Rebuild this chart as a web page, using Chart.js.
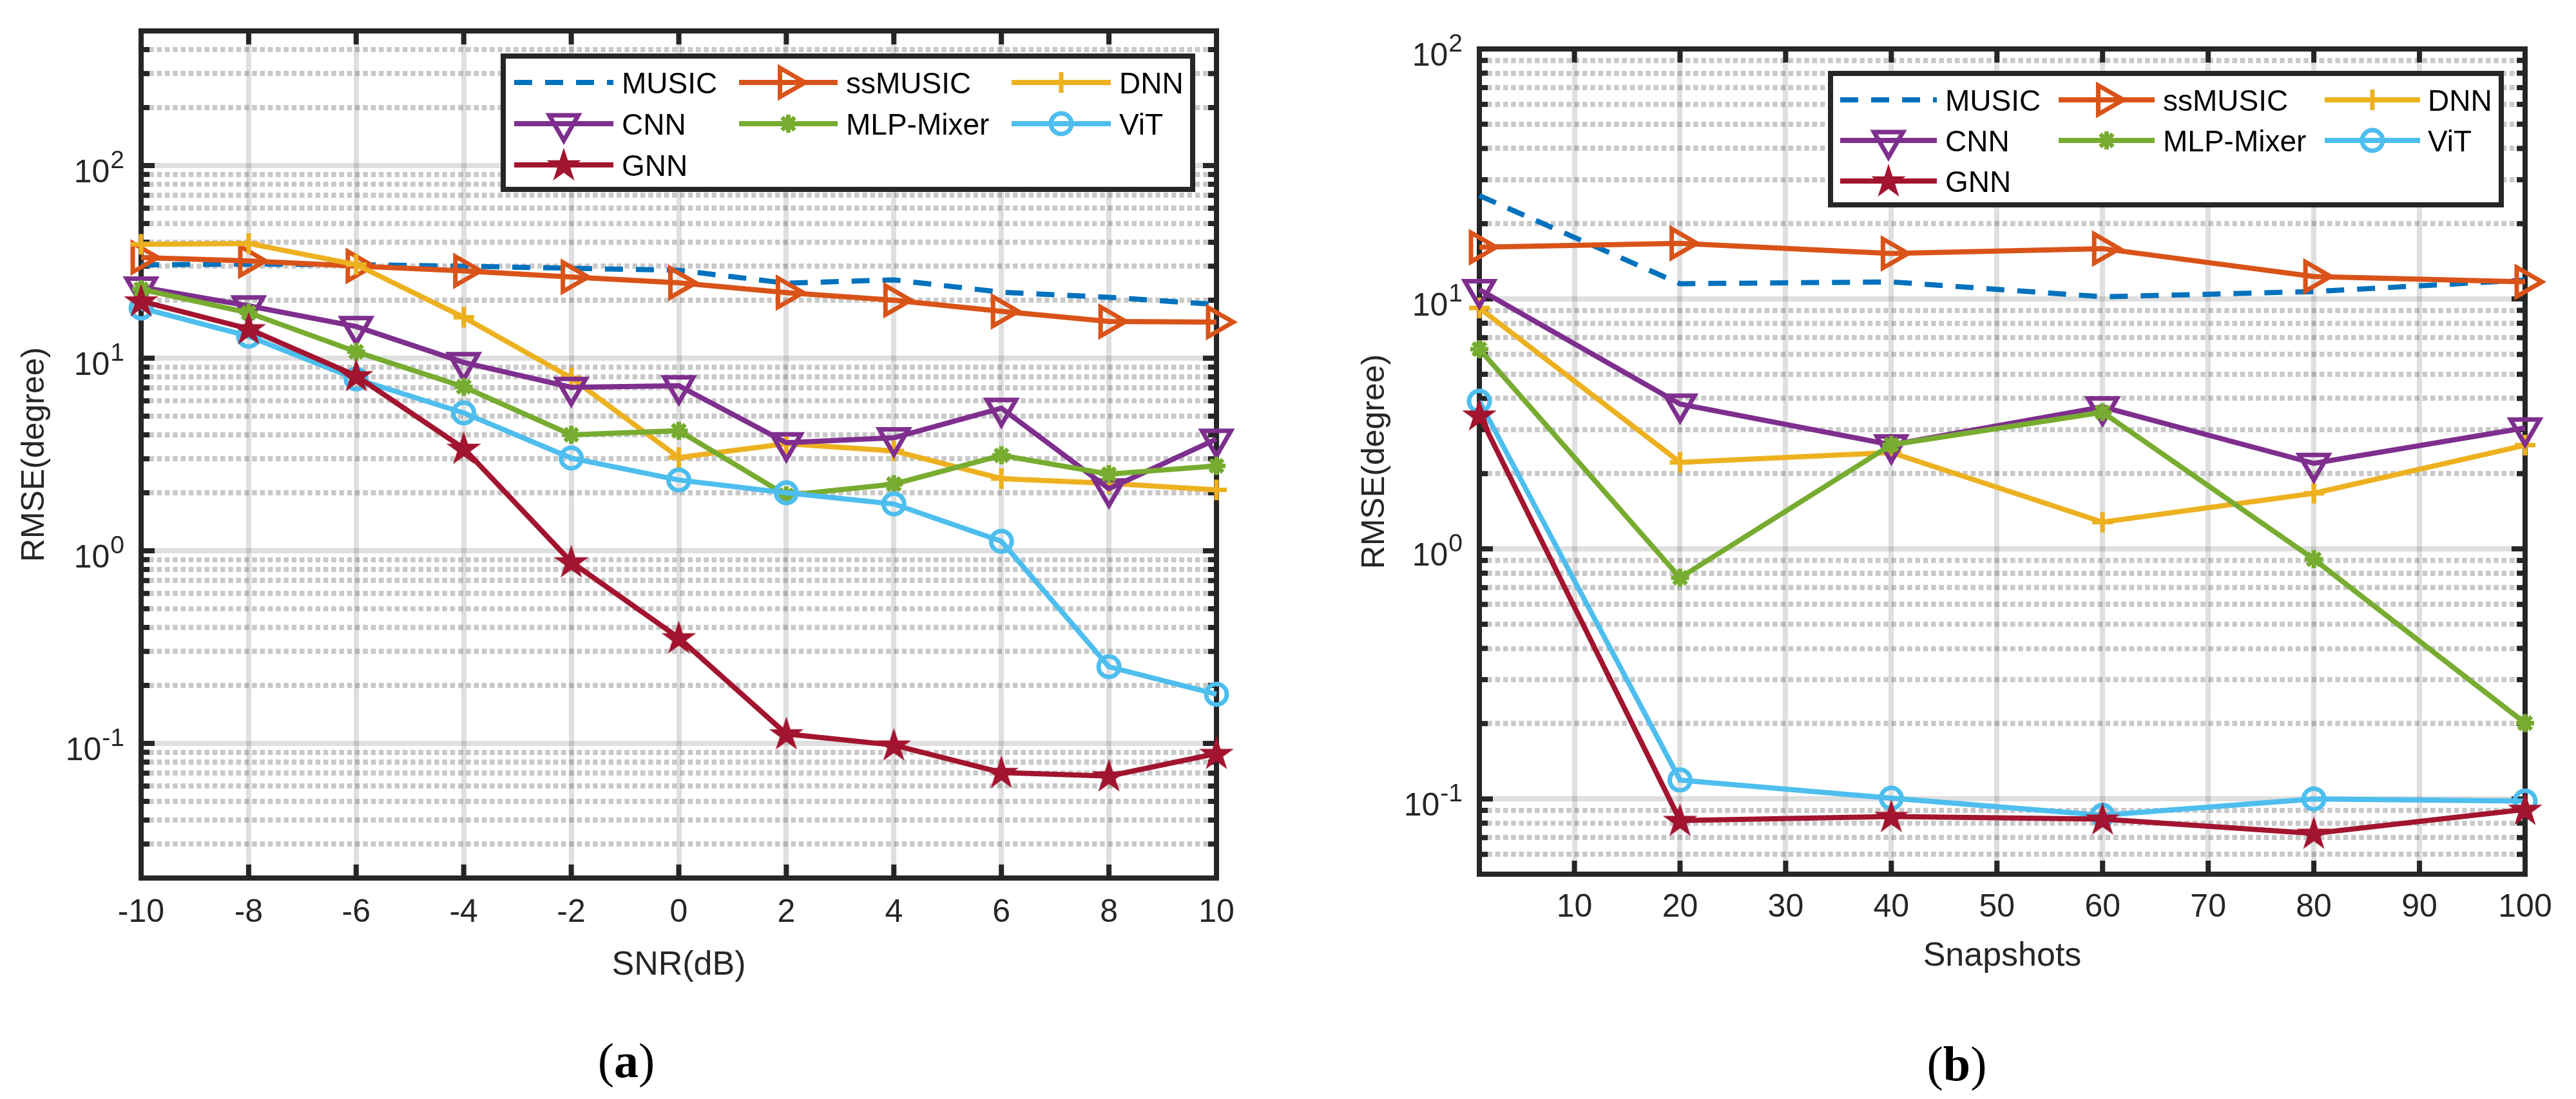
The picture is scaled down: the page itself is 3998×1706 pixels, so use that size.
<!DOCTYPE html>
<html><head><meta charset="utf-8">
<script src="https://cdn.jsdelivr.net/npm/chart.js@4.4.1/dist/chart.umd.min.js"></script>
<style>
html,body{margin:0;padding:0;background:#fff;width:3998px;height:1706px;overflow:hidden;}
canvas{position:absolute;top:0;}
#ca{left:0;} #cb{left:2000px;}
.cap{position:absolute;font-family:'Liberation Serif','Times New Roman',serif;font-size:76px;color:#000;transform:translate(-50%,-50%);white-space:nowrap;line-height:1;}
</style></head><body>
<canvas id="ca" width="2000" height="1706"></canvas>
<canvas id="cb" width="1998" height="1706"></canvas>
<div class="cap" style="left:972px;top:1646px">(<b>a</b>)</div>
<div class="cap" style="left:3037px;top:1651px">(<b>b</b>)</div>
<script>
// ---------------- data ----------------
const seriesNames = ['MUSIC','ssMUSIC','DNN','CNN','MLP-Mixer','ViT','GNN'];

const snrDb     = [-10,-8,-6,-4,-2,0,2,4,6,8,10];
const snrTicks  = [-10,-8,-6,-4,-2,0,2,4,6,8,10];
const musicA    = [30.5,30.8,30.6,30.0,29.3,28.6,24.5,25.5,22.0,20.7,19.0];
const ssmusicA  = [33.3,32.0,30.1,28.4,26.4,24.6,21.9,20.0,17.5,15.5,15.4];
const dnnA      = [39.0,39.4,30.6,16.3,7.9,3.05,3.6,3.3,2.37,2.24,2.07];
const cnnA      = [23.4,18.7,14.6,9.5,7.06,7.2,3.64,3.86,5.5,2.1,3.8];
const mlpA      = [22.8,17.2,10.8,7.1,4.0,4.2,1.94,2.22,3.13,2.5,2.76];
const vitA      = [18.2,13.0,7.8,5.2,3.03,2.33,2.0,1.75,1.12,0.25,0.18];
const gnnA      = [19.8,14.2,8.1,3.4,0.875,0.353,0.112,0.098,0.0706,0.0677,0.0886];

const snapshots  = [1,20,40,60,80,100];
const snapTicks  = [10,20,30,40,50,60,70,80,90,100];
const musicB     = [25.9,11.5,11.7,10.2,10.7,11.9];
const ssmusicB   = [16.1,16.7,15.2,15.9,12.3,11.7];
const dnnB       = [9.2,2.22,2.43,1.28,1.67,2.6];
const cnnB       = [10.9,3.8,2.61,3.7,2.2,3.05];
const mlpB       = [6.3,0.767,2.61,3.52,0.91,0.201];
const vitB       = [3.9,0.119,0.1007,0.086,0.1,0.098];
const gnnB       = [3.43,0.082,0.085,0.083,0.0728,0.0908];

const rmseDecadesA = [0.01,0.1,1,10,100];
const rmseDecadesB = [0.01,0.1,1,10,100];
const rmseRangeA = [0.02,500];
const rmseRangeB = [0.05,100];

// ---------------- styles ----------------
const styles = [
  {color:'#0072BD', dash:[28,20], marker:'none'},
  {color:'#D95319', marker:'triangle', rot:90, r:26},
  {color:'#EDB120', marker:'cross', r:16},
  {color:'#7E2F8E', marker:'triangle', rot:180, r:26},
  {color:'#77AC30', marker:'star', r:14},
  {color:'#4DBEEE', marker:'circle', r:16},
  {color:'#A2142F', marker:'pentagram', r:25}
];
const AX = '#262626';
Chart.defaults.font.family = "'Liberation Sans', Arial, Helvetica, sans-serif";
Chart.defaults.color = AX;

function makePentagram(R, color){
  const s = Math.ceil(2*R+6);
  const c = document.createElement('canvas'); c.width = s; c.height = s;
  const g = c.getContext('2d');
  g.translate(s/2, s/2 + R*0.06);
  g.beginPath();
  for (let k=0;k<10;k++){
    const a = -Math.PI/2 + k*Math.PI/5;
    const rr = (k%2===0) ? R : R*0.382;
    g.lineTo(Math.cos(a)*rr, Math.sin(a)*rr);
  }
  g.closePath(); g.fillStyle = color; g.fill();
  g.lineWidth = 2; g.strokeStyle = color; g.stroke();
  return c;
}
const pentImg = makePentagram(25, '#A2142F');

function drawMarker(ctx, st, x, y){
  if (st.marker==='none') return;
  ctx.save(); ctx.translate(x,y);
  ctx.lineWidth = 7; ctx.strokeStyle = st.color; ctx.fillStyle = st.color;
  ctx.setLineDash([]);
  const r = st.r;
  ctx.beginPath();
  if (st.marker==='triangle'){
    ctx.rotate(st.rot*Math.PI/180);
    for (let k=0;k<3;k++){ const a=k*2*Math.PI/3; ctx.lineTo(Math.sin(a)*r, -Math.cos(a)*r); }
    ctx.closePath(); ctx.stroke();
  } else if (st.marker==='cross'){
    ctx.moveTo(-r,0); ctx.lineTo(r,0); ctx.moveTo(0,-r); ctx.lineTo(0,r); ctx.stroke();
  } else if (st.marker==='star'){
    for (let k=0;k<4;k++){ const a=k*Math.PI/4; ctx.moveTo(-Math.cos(a)*r,-Math.sin(a)*r); ctx.lineTo(Math.cos(a)*r,Math.sin(a)*r); }
    ctx.stroke();
  } else if (st.marker==='circle'){
    ctx.arc(0,0,r,0,Math.PI*2); ctx.stroke();
  } else if (st.marker==='pentagram'){
    ctx.drawImage(pentImg, -pentImg.width/2, -pentImg.height/2);
  }
  ctx.restore();
}

function isDecade(v){ const l=Math.log10(v); return Math.abs(l-Math.round(l))<1e-6; }
function logGridValues(decades, range){
  const out=[];
  decades.forEach(d=>{ for(let m=1;m<10;m++){ const v=+(m*d).toPrecision(6); if(v>=range[0]-1e-12 && v<=range[1]+1e-9) out.push(v);} });
  return out;
}

function buildDatasets(xs, vals){
  return seriesNames.map((name,i)=>{
    const st = styles[i];
    return {
      label: name,
      data: xs.map((x,j)=>({x:x, y:vals[i][j]})),
      borderColor: st.color, backgroundColor: st.color,
      borderWidth: 8, borderDash: st.dash || [],
      pointStyle: st.marker==='pentagram' ? pentImg : (st.marker==='none' ? 'circle' : st.marker),
      pointRadius: st.marker==='none' ? 0 : st.r,
      pointHoverRadius: st.marker==='none' ? 0 : st.r,
      pointRotation: st.rot || 0,
      pointBorderWidth: 7, pointBorderColor: st.color,
      pointBackgroundColor: 'rgba(0,0,0,0)',
      tension: 0, clip: false, order: 10 - i
    };
  });
}

const axesBoxPlugin = {
  id: 'axesBox',
  beforeDatasetsDraw(chart, args, opts){
    const {ctx, chartArea:a, scales:{x, y}} = chart;
    ctx.save();
    ctx.strokeStyle = AX; ctx.lineWidth = 8; ctx.lineCap = 'butt'; ctx.setLineDash([]);
    ctx.beginPath();
    x.ticks.forEach(t=>{
      const px = x.getPixelForValue(t.value);
      if (px <= a.left+2 || px >= a.right-2) return;
      ctx.moveTo(px, a.bottom); ctx.lineTo(px, a.bottom-21);
      ctx.moveTo(px, a.top); ctx.lineTo(px, a.top+21);
    });
    y.ticks.forEach(t=>{
      const py = y.getPixelForValue(t.value);
      if (py <= a.top+2 || py >= a.bottom-2) return;
      const len = isDecade(t.value) ? 21 : 13;
      ctx.moveTo(a.left, py); ctx.lineTo(a.left+len, py);
      ctx.moveTo(a.right, py); ctx.lineTo(a.right-len, py);
    });
    ctx.stroke();
    ctx.strokeRect(a.left, a.top, a.right-a.left, a.bottom-a.top);
    // y tick labels 10^n
    ctx.fillStyle = AX; ctx.textBaseline = 'alphabetic';
    y.ticks.forEach(t=>{
      if (!isDecade(t.value)) return;
      const py = y.getPixelForValue(t.value);
      const e = String(Math.round(Math.log10(t.value)));
      const right = a.left - 26;
      ctx.font = "39px 'Liberation Sans', Arial, sans-serif";
      ctx.textAlign = 'right';
      const ew = ctx.measureText(e).width;
      ctx.fillText(e, right, py + 4);
      ctx.font = "50px 'Liberation Sans', Arial, sans-serif";
      ctx.fillText('10', right - ew - 1, py + 26);
    });
    ctx.restore();
  }
};

const legendPlugin = {
  id: 'mLegend',
  afterDraw(chart, args, L){
    const {ctx} = chart;
    ctx.save();
    ctx.fillStyle = '#fff';
    ctx.fillRect(L.left, L.top, L.right-L.left, L.bottom-L.top);
    ctx.lineWidth = 8; ctx.strokeStyle = AX; ctx.setLineDash([]);
    ctx.strokeRect(L.left, L.top, L.right-L.left, L.bottom-L.top);
    chart.data.datasets.forEach((ds,i)=>{
      const st = styles[i];
      const row = Math.floor(i/3), col = i%3;
      const yy = L.top + L.rowY[row];
      const c = L.cols[col];
      const x1 = L.left + c[0], x2 = L.left + c[1], tx = L.left + c[2];
      ctx.beginPath(); ctx.setLineDash(st.dash || []); ctx.lineWidth = 8; ctx.strokeStyle = st.color;
      ctx.moveTo(x1, yy); ctx.lineTo(x2, yy); ctx.stroke(); ctx.setLineDash([]);
      drawMarker(ctx, st, (x1+x2)/2, yy);
      ctx.fillStyle = '#000'; ctx.font = "46px 'Liberation Sans', Arial, sans-serif";
      ctx.textAlign = 'left'; ctx.textBaseline = 'alphabetic';
      ctx.fillText(ds.label, tx, yy + 16.5);
    });
    ctx.restore();
  }
};

function makeChart(id, cfg){
  const gridVals = logGridValues(cfg.decades, cfg.yRange);
  return new Chart(document.getElementById(id), {
    type: 'line',
    data: { datasets: buildDatasets(cfg.xs, cfg.vals) },
    plugins: [axesBoxPlugin, legendPlugin],
    options: {
      responsive: false, animation: false, devicePixelRatio: 1,
      layout: { padding: cfg.padding },
      plugins: { legend: {display:false}, tooltip: {enabled:false}, title: {display:false}, mLegend: cfg.legend },
      scales: {
        x: {
          type: 'linear', min: cfg.xRange[0], max: cfg.xRange[1],
          afterBuildTicks: s => { s.ticks = cfg.xTicks.map(v=>({value:v})); },
          afterFit: s => { s.height = cfg.xAxisH; },
          grid: { color: 'rgba(38,38,38,0.15)', lineWidth: 8, drawTicks: false },
          border: { display: false },
          ticks: { font: {size: 50}, color: AX, padding: cfg.xTickPad, maxRotation: 0, autoSkip: false },
          title: { display: true, text: cfg.xTitle, font: {size: 52}, color: AX, padding: {top:0, bottom: cfg.xTitlePad} }
        },
        y: {
          type: 'logarithmic', min: cfg.yRange[0], max: cfg.yRange[1],
          afterBuildTicks: s => { s.ticks = gridVals.map(v=>({value:v})); },
          afterFit: s => { s.width = cfg.yAxisW; },
          grid: {
            color: c => (c.tick && isDecade(c.tick.value)) ? 'rgba(38,38,38,0.15)' : 'rgba(38,38,38,0.25)',
            lineWidth: 8, drawTicks: false
          },
          border: { display: false, dash: c => (c.tick && isDecade(c.tick.value)) ? [] : [7.5,4.8] },
          ticks: { display: false },
          title: { display: true, text: 'RMSE(degree)', font: {size: 50}, color: AX, padding: {top: cfg.yTitlePad, bottom: 0} }
        }
      }
    }
  });
}

makeChart('ca', {
  xs: snrDb, vals: [musicA, ssmusicA, dnnA, cnnA, mlpA, vitA, gnnA],
  xRange: [-10,10], xTicks: snrTicks, yRange: rmseRangeA, decades: rmseDecadesA,
  padding: {top:48, right:112, bottom:0, left:0},
  xAxisH: 343, yAxisW: 219, xTickPad: 24, xTitlePad: 176, yTitlePad: 24,
  xTitle: 'SNR(dB)',
  legend: {left:781, top:87, right:1851, bottom:294, rowY:[41,105,169],
           cols:[[17,171,184],[366,519,532],[789,943,956]]}
});
makeChart('cb', {
  xs: snapshots, vals: [musicB, ssmusicB, dnnB, cnnB, mlpB, vitB, gnnB],
  xRange: [1,100], xTicks: snapTicks, yRange: rmseRangeB, decades: rmseDecadesB,
  padding: {top:76, right:79, bottom:0, left:0},
  xAxisH: 349, yAxisW: 296, xTickPad: 22, xTitlePad: 190, yTitlePad: 104,
  xTitle: 'Snapshots',
  legend: {left:841, top:114, right:1882, bottom:318, rowY:[41,104,167],
           cols:[[15,165,178],[354,503,516],[767,915,927]]}
});
</script>
</body></html>
